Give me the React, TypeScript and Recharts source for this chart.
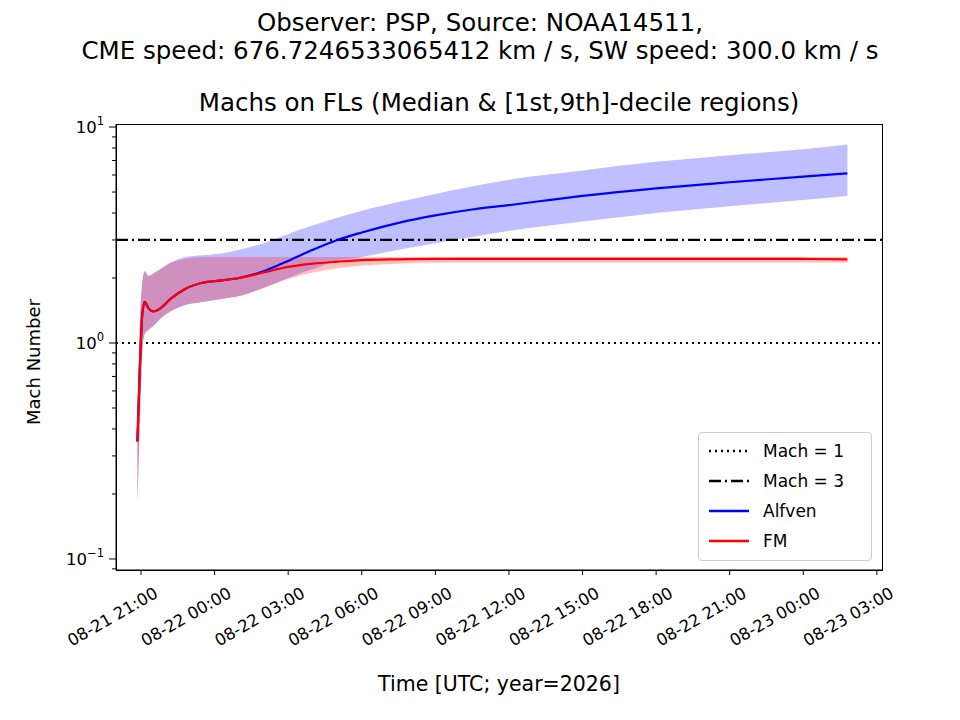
import React from "react";
import { ComposedChart, Area, Line, XAxis, YAxis, ReferenceLine } from "recharts";

const times = [-0.15, -0.05, 0.05, 0.15, 0.3, 0.5, 0.8, 1.2, 1.8, 2.5, 3.3, 4, 5, 6, 7, 8, 9, 10.5, 12, 13.5, 15, 18, 21, 24, 27, 28.8];
const alfMed = [0.35, 0.75, 1.35, 1.55, 1.45, 1.4, 1.45, 1.6, 1.78, 1.9, 1.95, 2.0, 2.15, 2.4, 2.7, 3.0, 3.25, 3.6, 3.9, 4.15, 4.35, 4.8, 5.2, 5.55, 5.9, 6.1];
const alfLo = [0.18, 0.4, 0.9, 1.1, 1.15, 1.2, 1.3, 1.4, 1.5, 1.55, 1.6, 1.65, 1.8, 2.0, 2.2, 2.4, 2.5, 2.7, 2.9, 3.1, 3.3, 3.65, 4.0, 4.3, 4.6, 4.8];
const alfHi = [0.45, 1.2, 1.9, 2.15, 2.05, 2.1, 2.2, 2.35, 2.5, 2.55, 2.6, 2.7, 2.9, 3.2, 3.5, 3.8, 4.1, 4.5, 4.9, 5.3, 5.7, 6.3, 6.9, 7.4, 7.9, 8.3];
const fmMed = [0.35, 0.75, 1.35, 1.55, 1.45, 1.4, 1.45, 1.6, 1.78, 1.9, 1.95, 2.0, 2.12, 2.25, 2.33, 2.38, 2.42, 2.44, 2.45, 2.45, 2.45, 2.45, 2.45, 2.45, 2.45, 2.44];
const fmLo = [0.18, 0.4, 0.9, 1.1, 1.15, 1.2, 1.3, 1.4, 1.5, 1.55, 1.6, 1.65, 1.8, 1.98, 2.12, 2.22, 2.28, 2.33, 2.35, 2.36, 2.36, 2.36, 2.36, 2.36, 2.36, 2.35];
const fmHi = [0.45, 1.2, 1.9, 2.15, 2.05, 2.1, 2.2, 2.35, 2.45, 2.5, 2.5, 2.5, 2.5, 2.5, 2.5, 2.5, 2.5, 2.5, 2.5, 2.5, 2.5, 2.5, 2.5, 2.5, 2.5, 2.5];
const xTicks = [0, 3, 6, 9, 12, 15, 18, 21, 24, 27, 30];
const xTickLabels = ["08-21 21:00", "08-22 00:00", "08-22 03:00", "08-22 06:00", "08-22 09:00", "08-22 12:00", "08-22 15:00", "08-22 18:00", "08-22 21:00", "08-23 00:00", "08-23 03:00"];
const yTicks = [0.09, 0.1, 0.2, 0.3, 0.4, 0.5, 0.6, 0.7, 0.8, 0.9, 1, 2, 3, 4, 5, 6, 7, 8, 9, 10];
const yMajor: Record<string, string> = { "0.1": "−1", "1": "0", "10": "1" };

const data = times.map((t, i) => ({
  t, alfMed: alfMed[i], alfBand: [alfLo[i], alfHi[i]], fmMed: fmMed[i], fmBand: [fmLo[i], fmHi[i]],
}));

const font = "'DejaVu Sans', sans-serif";

const XTick = (p: any) => {
  const i = xTicks.indexOf(p.payload.value);
  const ax = p.x + 12, ay = p.y + 8;
  return (
    <g>
      <line x1={p.x} x2={p.x} y1={p.y - 8} y2={p.y - 3} stroke="#000" />
      <text x={ax} y={ay} textAnchor="end" fontSize={16.5} fontFamily={font} transform={`rotate(-30 ${ax} ${ay})`} dominantBaseline="hanging">
        {xTickLabels[i]}
      </text>
    </g>
  );
};

const YTick = (p: any) => {
  const v = p.payload.value;
  const lab = yMajor[String(v)];
  return (
    <g>
      <line x1={p.x + 8} x2={p.x + (lab ? 1 : 4)} y1={p.y} y2={p.y} stroke="#000" />
      {lab && (
        <text x={p.x - 4} y={p.y + 6} textAnchor="end" fontSize={16.5} fontFamily={font}>
          10<tspan dy={-8} fontSize={11.5}>{lab}</tspan>
        </text>
      )}
    </g>
  );
};

export default function App() {
  return (
    <div style={{ position: "relative", width: 960, height: 720, margin: "-8px 0 0 -8px", background: "#fff", fontFamily: font }}>
      <div style={{ position: "absolute", top: 9, width: 960, textAlign: "center", fontSize: 24.5, lineHeight: "28px", whiteSpace: "nowrap" }}>
        Observer: PSP, Source: NOAA14511,<br />CME speed: 676.7246533065412 km / s, SW speed: 300.0 km / s
      </div>
      <div style={{ position: "absolute", top: 88, left: 116, width: 766, textAlign: "center", fontSize: 24.5, lineHeight: "30px", whiteSpace: "nowrap" }}>
        Machs on FLs (Median &amp; [1st,9th]-decile regions)
      </div>
      <ComposedChart width={960} height={720} data={data} margin={{ top: 124, right: 78, bottom: 90, left: 66 }}>
        <XAxis dataKey="t" type="number" domain={[-1.02, 30.21]} ticks={xTicks} tick={<XTick />} tickLine={false} height={60} allowDataOverflow stroke="#000" />
        <YAxis scale="log" domain={[0.0889, 10.33]} ticks={yTicks} tick={<YTick />} tickLine={false} width={50} allowDataOverflow stroke="#000" interval={0} />
        <Area dataKey="alfBand" type="monotone" stroke="none" fill="#0000ff" fillOpacity={0.25} isAnimationActive={false} />
        <Area dataKey="fmBand" type="monotone" stroke="none" fill="#ff0000" fillOpacity={0.25} isAnimationActive={false} />
        <ReferenceLine y={1} stroke="#000" strokeWidth={2} strokeDasharray="2 4" />
        <ReferenceLine y={3} stroke="#000" strokeWidth={2.2} strokeDasharray="12 4 2 4" />
        <Line dataKey="alfMed" type="monotone" stroke="#0000ff" strokeWidth={2.2} dot={false} isAnimationActive={false} />
        <Line dataKey="fmMed" type="monotone" stroke="#ff0000" strokeWidth={2.2} dot={false} isAnimationActive={false} />
      </ComposedChart>
      <div style={{ position: "absolute", left: 116, top: 124, width: 765, height: 445, border: "1px solid #000", pointerEvents: "none" }} />
      <div style={{ position: "absolute", top: 672, left: 116, width: 766, textAlign: "center", fontSize: 20.5, whiteSpace: "nowrap" }}>Time [UTC; year=2026]</div>
      <div style={{ position: "absolute", left: 13, top: 362, width: 40, height: 0 }}>
        <div style={{ position: "absolute", transform: "translate(-50%,-50%) rotate(-90deg)", left: 20, whiteSpace: "nowrap", fontSize: 18 }}>Mach Number</div>
      </div>
      <div style={{ position: "absolute", left: 698, top: 432, width: 172, height: 127, border: "1px solid #ccc", borderRadius: 4, background: "rgba(255,255,255,0.8)", fontSize: 17 }}>
        {[
          { l: "Mach = 1", s: "#000", d: "2 4" },
          { l: "Mach = 3", s: "#000", d: "12 4 2 4" },
          { l: "Alfven", s: "#0000ff", d: "" },
          { l: "FM", s: "#ff0000", d: "" },
        ].map((e, i) => (
          <div key={i} style={{ position: "absolute", top: 6 + i * 30, left: 10, display: "flex", alignItems: "center", height: 24 }}>
            <svg width={40} height={10}><line x1={0} x2={40} y1={5} y2={5} stroke={e.s} strokeWidth={2.5} strokeDasharray={e.d} /></svg>
            <span style={{ marginLeft: 14 }}>{e.l}</span>
          </div>
        ))}
      </div>
    </div>
  );
}
